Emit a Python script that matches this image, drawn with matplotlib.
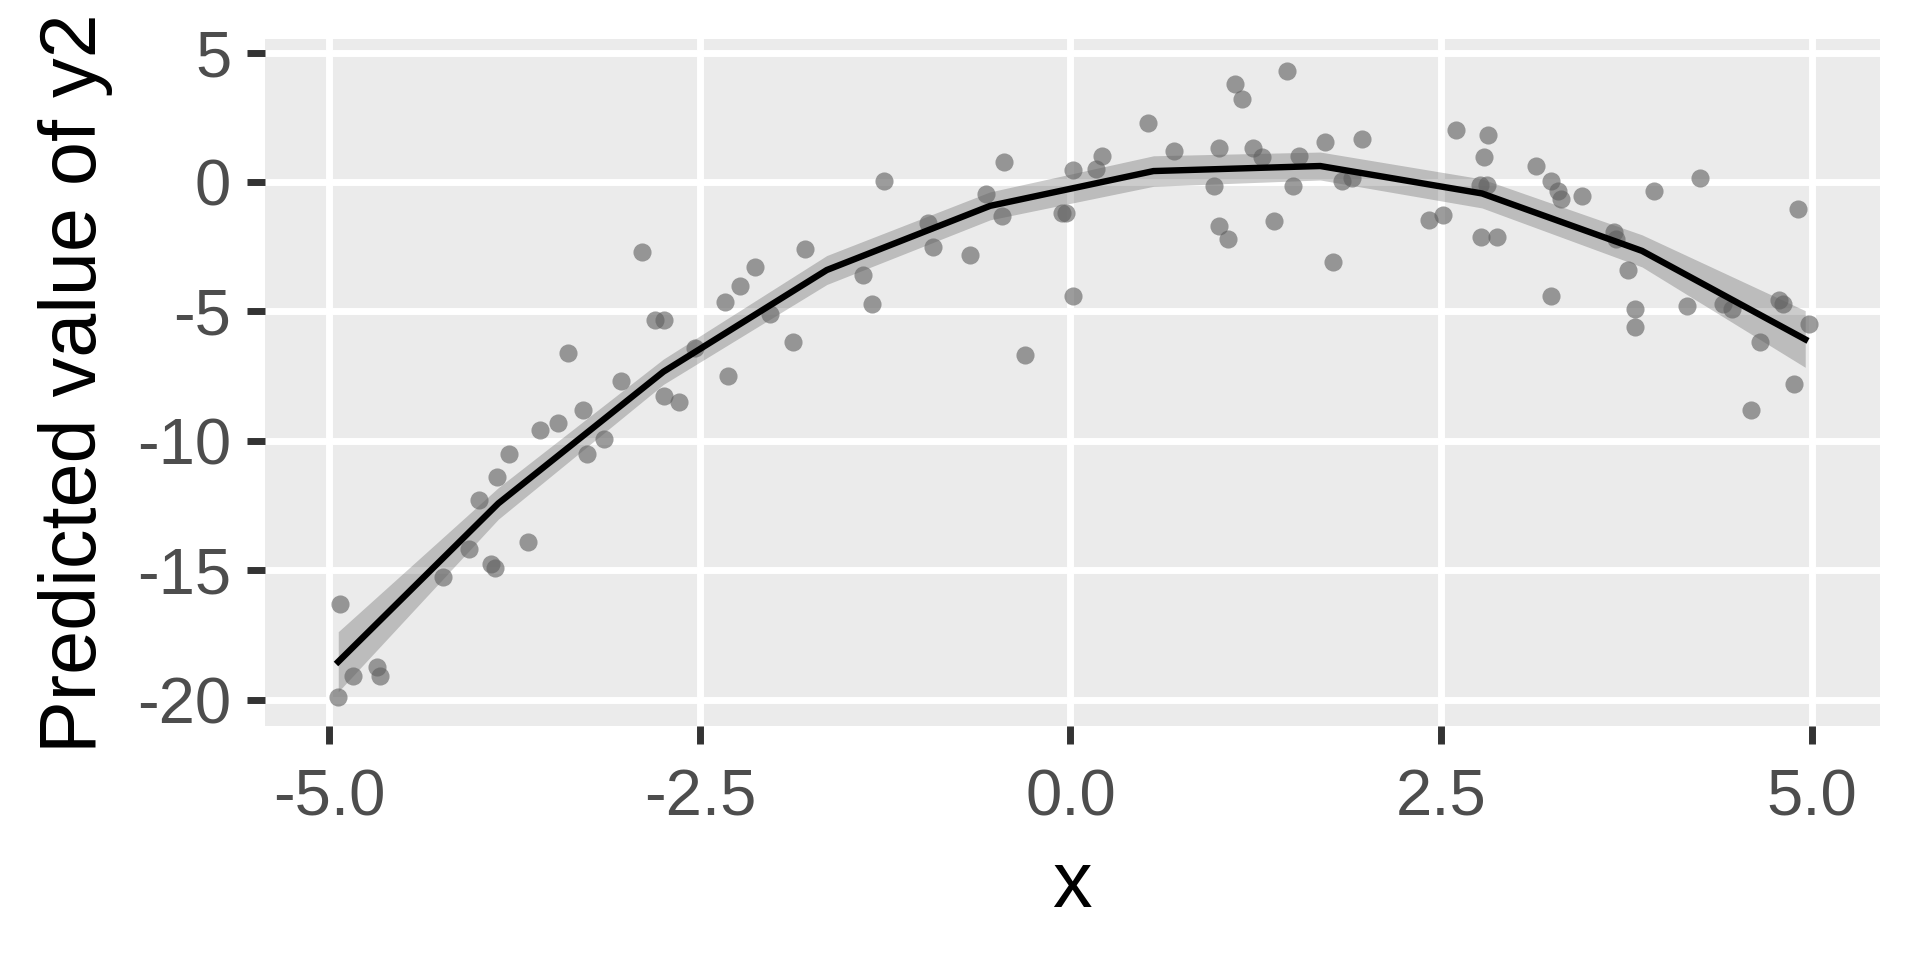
import matplotlib
matplotlib.use("Agg")
import matplotlib.pyplot as plt
import numpy as np

# Observed data (scatter)
x_obs = [-4.93, -4.94, -4.84, -4.68, -4.66, -4.23, -4.06, -3.99, -3.91, -3.88,
         -3.87, -3.79, -3.66, -3.58, -3.46, -3.39, -3.29, -3.26, -3.15, -3.03,
         -2.89, -2.80, -2.74, -2.74, -2.64, -2.53, -2.33, -2.31, -2.23, -2.13,
         -2.03, -1.87, -1.79, -1.40, -1.34, -1.26, -0.96, -0.93, -0.68, -0.57,
         -0.46, -0.45, -0.31, -0.06, -0.03, 0.02, 0.02, 0.17, 0.21, 0.52,
         0.70, 0.97, 1.00, 1.00, 1.06, 1.11, 1.16, 1.23, 1.29, 1.37,
         1.46, 1.50, 1.54, 1.72, 1.77, 1.83, 1.90, 1.97, 2.42, 2.51,
         2.60, 2.76, 2.77, 2.79, 2.81, 2.82, 2.88, 3.14, 3.24, 3.24,
         3.29, 3.31, 3.45, 3.67, 3.68, 3.76, 3.81, 3.81, 3.94, 4.16,
         4.25, 4.40, 4.46, 4.59, 4.65, 4.78, 4.81, 4.88, 4.91, 4.98]
y_obs = [-16.32, -19.9, -19.08, -18.73, -19.1, -15.28, -14.2, -12.3, -14.77, -14.9,
         -11.4, -10.5, -13.9, -9.6, -9.3, -6.6, -8.8, -10.5, -9.95, -7.7,
         -2.7, -5.35, -5.35, -8.25, -8.5, -6.4, -4.65, -7.5, -4.0, -3.3,
         -5.1, -6.2, -2.6, -3.6, -4.7, 0.05, -1.6, -2.5, -2.8, -0.47,
         -1.3, 0.76, -6.7, -1.2, -1.2, 0.47, -4.4, 0.52, 1.0, 2.3,
         1.2, -0.15, 1.3, -1.7, -2.2, 3.8, 3.2, 1.3, 0.95, -1.5,
         4.3, -0.15, 1.0, 1.56, -3.1, 0.05, 0.14, 1.66, -1.47, -1.28,
         2.0, -0.1, -2.13, 0.95, -0.1, 1.8, -2.13, 0.62, 0.05, -4.4,
         -0.33, -0.66, -0.52, -1.94, -2.2, -3.4, -4.9, -5.6, -0.33, -4.8,
         0.14, -4.7, -4.9, -8.8, -6.2, -4.55, -4.7, -7.8, -1.05, -5.5]

# Predicted values with confidence interval
x_pred = [-4.94, -3.86, -2.746, -1.644, -0.542, 0.560, 1.685, 2.776, 3.856, 4.957]
y_pred = [-18.54, -12.42, -7.33, -3.40, -0.92, 0.425, 0.62, -0.44, -2.66, -6.08]
ci_low = [-19.70, -13.03, -7.82, -3.96, -1.46, -0.165, 0.08, -1.0, -3.28, -7.16]
ci_high = [-17.38, -11.81, -6.84, -2.84, -0.38, 1.015, 1.16, 0.12, -2.04, -4.97]

x_ticks = [-5.0, -2.5, 0.0, 2.5, 5.0]
x_tick_labels = ["-5.0", "-2.5", "0.0", "2.5", "5.0"]
y_ticks = [5, 0, -5, -10, -15, -20]
y_tick_labels = ["5", "0", "-5", "-10", "-15", "-20"]

plt.rcParams['font.family'] = ['Liberation Sans', 'DejaVu Sans']

fig = plt.figure(figsize=(19.2, 9.6), dpi=100)
ax = fig.add_axes([0.1378, 0.2433, 0.8414, 0.7161])
ax.set_facecolor('#EBEBEB')
for s in ax.spines.values():
    s.set_visible(False)

ax.set_xlim(-5.437, 5.462)
ax.set_ylim(-21.04, 5.53)

ax.set_xticks(x_ticks)
ax.set_xticklabels(x_tick_labels)
ax.set_yticks(y_ticks)
ax.set_yticklabels(y_tick_labels)
ax.grid(True, color='white', linewidth=5.0, zorder=0)
ax.set_axisbelow(True)
ax.tick_params(axis='both', which='major', length=13, width=5.0, color='#333333',
               labelsize=47, labelcolor='#4D4D4D')
ax.tick_params(axis='x', pad=17)
ax.tick_params(axis='y', pad=11)

ax.fill_between(x_pred, ci_low, ci_high, color='black', alpha=0.2, linewidth=0, zorder=2)
ax.scatter(x_obs, y_obs, s=170, color='#606060', alpha=0.62, linewidths=0, zorder=3)
ax.plot(x_pred, y_pred, color='black', linewidth=4.6, zorder=4)

ax.set_xlabel('x', fontsize=57, color='black')
ax.set_ylabel('Predicted value of y2', fontsize=57, color='black')
ax.xaxis.set_label_coords(0.5, -0.178)
ax.yaxis.set_label_coords(-0.094, 0.5)

fig.savefig('out.png', dpi=100, facecolor='white')
